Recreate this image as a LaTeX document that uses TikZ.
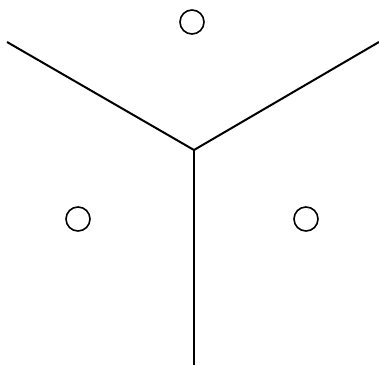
\documentclass[tikz,border=0pt]{standalone}
\begin{document}
\begin{tikzpicture}[x=1pt,y=-1pt,
  edge/.style={line width=2pt},
  site/.style={circle,draw,line width=1.6pt,minimum size=24pt,inner sep=0pt}]
\useasboundingbox (0,0) rectangle (379,365);
\coordinate (c) at (194,150);
\coordinate (l) at (7,42);
\coordinate (r) at (379,42);
\coordinate (b) at (194,365);
\draw[edge] (l) -- (c) -- (r);
\draw[edge] (c) -- (b);
\node[site] (s1) at (192,22) {};
\node[site] (s2) at (78,219) {};
\node[site] (s3) at (306,219) {};
\end{tikzpicture}
\end{document}
